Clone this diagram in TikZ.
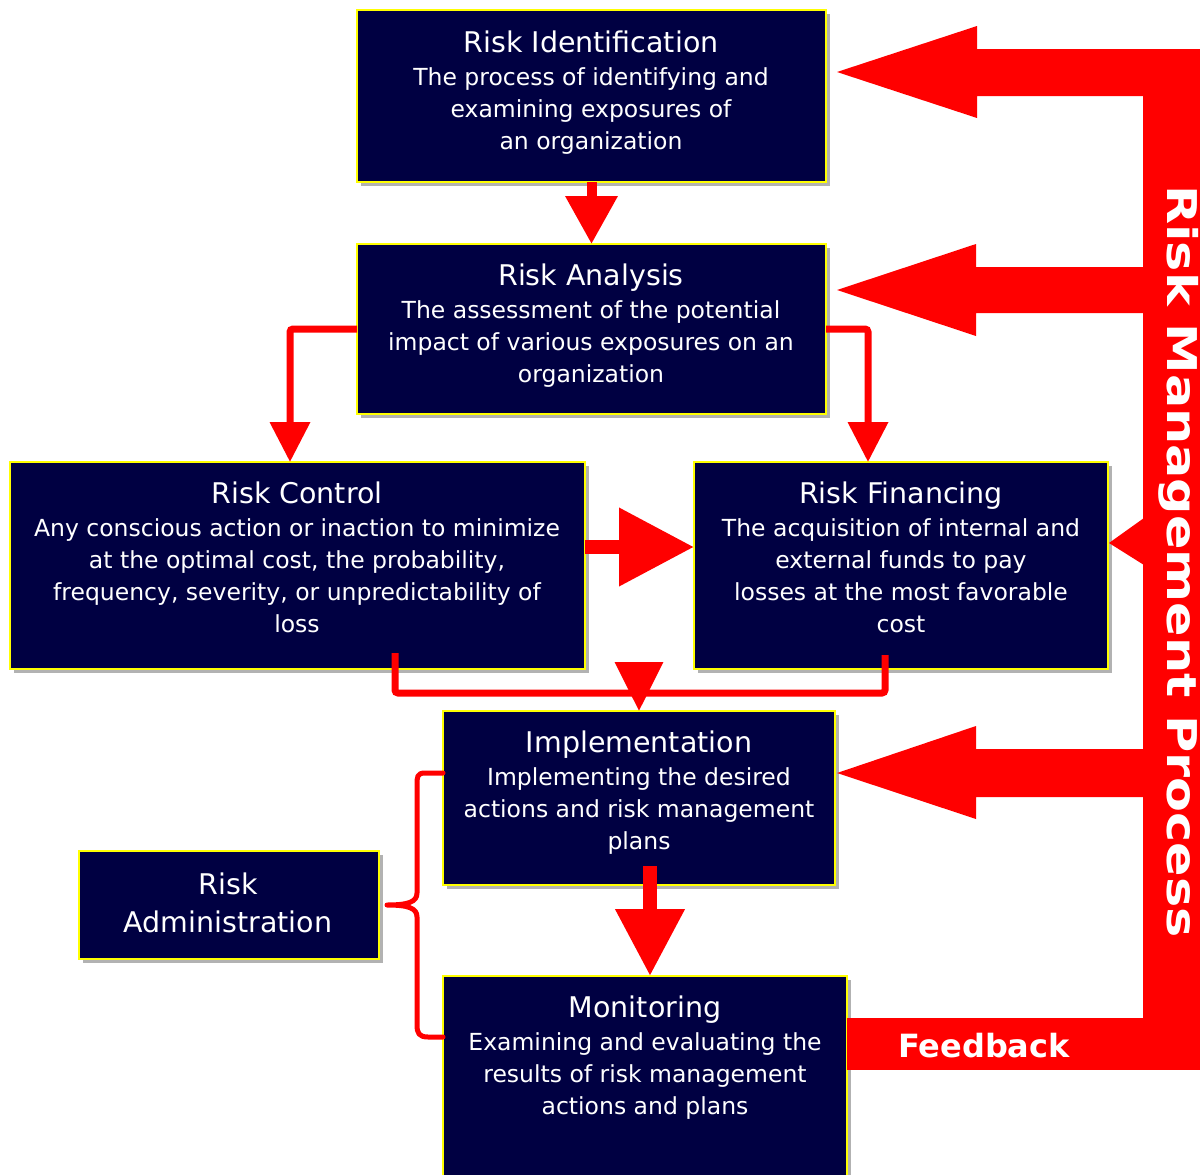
\documentclass[tikz,border=0pt]{standalone}
\usepackage{fontspec}
\setmainfont{DejaVu Sans}
\usepackage{graphicx}
\usetikzlibrary{arrows.meta,shadows}
\definecolor{navy}{RGB}{0,0,66}
\definecolor{rred}{RGB}{255,0,0}
\definecolor{ybord}{RGB}{255,255,0}
\newcommand{\ttlfont}{\fontsize{28.5}{32}\selectfont}
\newcommand{\bdyfont}{\fontsize{23.5}{32}\selectfont}
\begin{document}
\begin{tikzpicture}[x=1pt,y=-1pt,
  boxnode/.style={draw=ybord, line width=1.8pt, fill=navy, inner sep=0pt, outer sep=0pt,
    drop shadow={shadow xshift=4pt, shadow yshift=-4pt, fill=black, opacity=0.3}},
  txt/.style={text=white, align=center, inner sep=0pt, font=\bdyfont},
  conn/.style={draw=rred, line width=7pt, rounded corners=3pt},
  thinhead/.style={-{Triangle[length=40pt,width=39pt]}},
  bigarr/.style={fill=rred},
  brace/.style={draw=rred, line width=5pt, line cap=round, line join=round},
]
\useasboundingbox (0,0) rectangle (1200,1175);

% boxes
\node[boxnode, minimum width=469pt, minimum height=172pt] (ri) at (591.5,96) {};
\node[boxnode, minimum width=469pt, minimum height=170pt] (ra) at (591.5,329) {};
\node[boxnode, minimum width=575pt, minimum height=207pt] (rc) at (297.5,565.5) {};
\node[boxnode, minimum width=414pt, minimum height=207pt] (rf) at (901,565.5) {};
\node[boxnode, minimum width=392pt, minimum height=174pt] (im) at (639,798) {};
\node[boxnode, minimum width=300pt, minimum height=108pt] (adm) at (229,905) {};
\node[boxnode, minimum width=404pt, minimum height=224pt] (mon) at (645,1088) {};

% connectors
\draw[draw=rred, line width=10pt, -{Triangle[length=48pt,width=50pt]}] (ri.south) -- (ra.north);
\draw[conn, thinhead] (ra.west) -| ([xshift=-7.5pt]rc.north);
\draw[conn, thinhead] (ra.east) -| ([xshift=-33pt]rf.north);
\draw[draw=rred, line width=14pt, -{Triangle[length=75pt,width=75pt]}] ([yshift=18.5pt]rc.east) -- ([yshift=18.5pt]rf.west);
\coordinate (mrg) at (639,693);
\draw[conn] ([xshift=97.5pt,yshift=16pt]rc.south) |- (mrg) -| ([xshift=-16pt,yshift=14pt]rf.south);
\draw[draw=rred, line width=7pt, -{Triangle[length=49pt,width=47pt]}] ([yshift=31pt]mrg) -- (im.north);
\draw[draw=rred, line width=14pt, -{Triangle[length=67pt,width=66pt]}] ([xshift=11pt,yshift=19pt]im.south) -- ([xshift=5pt]mon.north);
\draw[brace] ([yshift=25pt]im.west) -- (425,773) .. controls (417,773) and (417,777) .. (417,785) -- (417,893) .. controls (417,902) and (408,905) .. ([xshift=8pt]adm.east) .. controls (408,905) and (417,908) .. (417,917) -- (417,1025) .. controls (417,1033) and (419,1037) .. (428,1037) -- ([yshift=51pt]mon.west);

% risk management process bar
\fill[rred] (1143,49) rectangle (1210,1070);
\fill[bigarr] (1150,49) -- (977,49) -- (977,26) -- ([xshift=11pt,yshift=24pt]ri.east) -- (977,118) -- (977,96) -- (1150,96) -- cycle;
\fill[bigarr] (1150,267) -- (976,267) -- (976,244) -- ([xshift=11pt,yshift=39pt]ra.east) -- (976,336) -- (976,313) -- (1150,313) -- cycle;
\fill[bigarr] (1150,749) -- (976,749) -- (976,726) -- ([xshift=2pt,yshift=25pt]im.east) -- (976,819) -- (976,797) -- (1150,797) -- cycle;
\fill[bigarr] (1144,518) -- ([xshift=1pt,yshift=22.5pt]rf.east) -- (1144,565) -- cycle;
\fill[rred] ([yshift=18pt]mon.east) rectangle (1210,1018);

% texts
\node[txt, anchor=north] (ri-t) at (591,30.3) {{\ttlfont Risk Identification}\\[1pt]The process of identifying and\\examining exposures of\\an organization};
\node[txt, anchor=north] (ra-t) at (591,263.3) {{\ttlfont Risk Analysis}\\[1pt]The assessment of the potential\\impact of various exposures on an\\organization};
\node[txt, anchor=north] (rc-t) at (297,481.3) {{\ttlfont Risk Control}\\[1pt]Any conscious action or inaction to minimize\\at the optimal cost, the probability,\\frequency, severity, or unpredictability of\\loss};
\node[txt, anchor=north] (rf-t) at (901,481.3) {{\ttlfont Risk Financing}\\[1pt]The acquisition of internal and\\external funds to pay\\losses at the most favorable\\cost};
\node[txt, anchor=north] (im-t) at (639,730.3) {{\ttlfont Implementation}\\[1pt]Implementing the desired\\actions and risk management\\plans};
\node[txt, anchor=north, font=\fontsize{28.5}{38}\selectfont] (adm-t) at (228,872.3) {Risk\\Administration};
\node[txt, anchor=north] (mon-t) at (645,995.3) {{\ttlfont Monitoring}\\[1pt]Examining and evaluating the\\results of risk management\\actions and plans};

\node[anchor=base, text=white, inner sep=0pt, font=\fontsize{32}{32}\selectfont\bfseries] (fb) at (984,1057) {Feedback};
\node[rotate=-90, anchor=base west, text=white, inner sep=0pt, font=\fontsize{41}{41}\selectfont\bfseries] (rmp) at (1167,185) {\scalebox{1.24}[1]{Risk Management Process}};
\end{tikzpicture}
\end{document}
